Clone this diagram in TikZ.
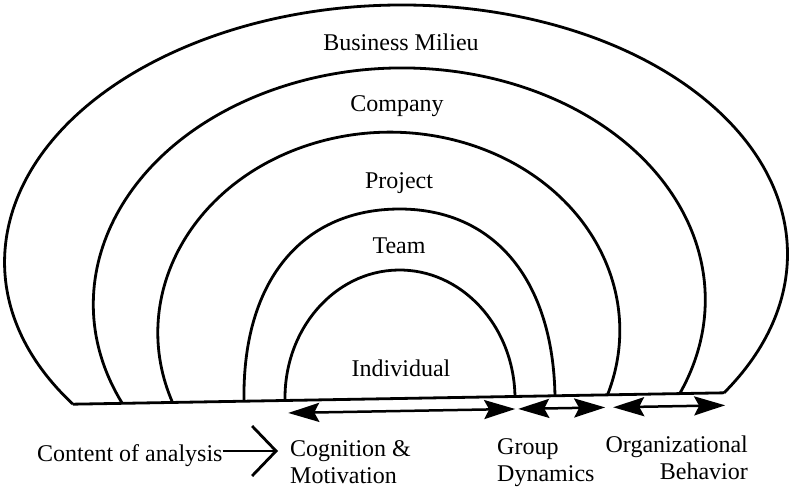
\documentclass[tikz,border=0pt]{standalone}
\usepackage{fontspec}
\setmainfont{Liberation Serif}
\usetikzlibrary{arrows.meta}
\begin{document}
\begin{tikzpicture}[x=1pt, y=1pt, line join=round,
        ring/.style={line width=2.8pt},
        lbl/.style={font=\fontsize{24}{27}\selectfont, inner sep=0pt},
        reach/.style={line width=2.5pt,
            {Stealth[length=31pt,width=19pt,inset=5pt]}-{Stealth[length=31pt,width=19pt,inset=5pt]}},
        into/.style={line width=2.5pt, -{Straight Barb[length=24pt,width=50pt,line width=2.8pt]}}]
    \useasboundingbox (0,0) rectangle (792,488);

    % Nested levels (the whole drawing leans about one degree)
    \begin{scope}[rotate around={1:(400,89.5)}]
        % Business Milieu
        \draw[ring] (398.5,230) ++(213.73:391.5 and 253) coordinate (ground-l)
            arc[start angle=213.73, end angle=-33.73, x radius=391.5, y radius=253]
            coordinate (ground-r);
        % Company
        \draw[ring] (401,186) ++(204.36:306 and 234)
            arc[start angle=204.36, end angle=-24.36, x radius=306, y radius=234];
        % Project
        \draw[ring] (390,156.6) ++(199.66:231 and 199.4)
            arc[start angle=199.66, end angle=-19.66, x radius=231, y radius=199.4];
        % Team
        \draw[ring] (244,89.5) .. controls (244,207) and (303,279) .. (399.5,279)
            .. controls (496,279) and (555,207) .. (555,89.5);
        % Individual
        \draw[ring] (285,89.5) arc[start angle=180, end angle=0, x radius=115, y radius=128.5];

        % Ground line
        \draw[ring] (ground-l) -- (ground-r);

        % Ranges of analysis
        \coordinate (cog-l) at (288,77);
        \coordinate (cog-r) at (515,77);
        \coordinate (grp-l) at (518,77);
        \coordinate (grp-r) at (605,77);
        \coordinate (org-l) at (613,77);
        \coordinate (org-r) at (725,77);
        \draw[reach] (cog-l) -- (cog-r);
        \draw[reach] (grp-l) -- (grp-r);
        \draw[reach] (org-l) -- (org-r);
    \end{scope}

    % Level labels
    \node[lbl, anchor=base] (milieu) at (401,437) {Business Milieu};
    \node[lbl, anchor=base] (company) at (397,376) {Company};
    \node[lbl, anchor=base] (project) at (399,299) {Project};
    \node[lbl, anchor=base] (team) at (399,235) {Team};
    \node[lbl, anchor=base] (individual) at (401,112) {Individual};

    % Bottom labels (anchored on their last line)
    \node[lbl, anchor=base west] (content) at (37,27) {Content of analysis};
    \node[lbl, anchor=base west, align=left] (cognition) at (290,5) {Cognition \&\\Motivation};
    \node[lbl, anchor=base west, align=left] (group) at (497,7) {Group\\Dynamics};
    \node[lbl, anchor=base east, align=right] (organ) at (748,9) {Organizational\\Behavior};

    \draw[into] ([yshift=10pt]content.base east) -- ([xshift=-12pt,yshift=10pt]content.base east -| cognition.west);
\end{tikzpicture}
\end{document}
